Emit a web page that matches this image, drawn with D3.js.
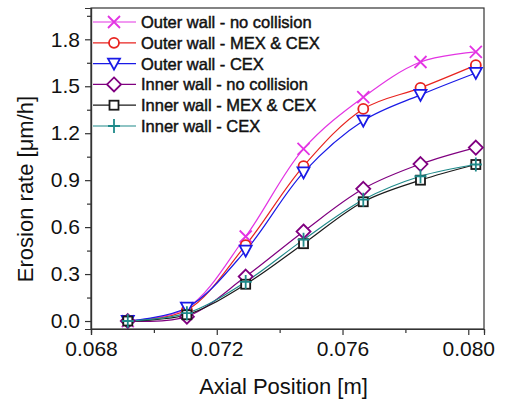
<!DOCTYPE html>
<html><head><meta charset="utf-8">
<script src="https://d3js.org/d3.v7.min.js"></script>
<style>body{margin:0;background:#fff;} svg{display:block;}</style>
</head><body>
<script>
const xPos = [0.06917, 0.07105, 0.07292, 0.07476, 0.07666, 0.07848, 0.08024];
const seriesNames = ["Outer wall - no collision","Outer wall - MEX & CEX","Outer wall - CEX","Inner wall - no collision","Inner wall - MEX & CEX","Inner wall - CEX"];
const outerNoColl = [0.0, 0.083, 0.54, 1.10, 1.43, 1.655, 1.72];
const outerMexCex = [0.0, 0.07, 0.485, 0.99, 1.355, 1.49, 1.635];
const outerCex    = [0.0, 0.085, 0.45, 0.95, 1.28, 1.445, 1.585];
const innerNoColl = [0.0, 0.028, 0.284, 0.572, 0.845, 1.003, 1.108];
const innerMexCex = [0.0, 0.04, 0.235, 0.494, 0.762, 0.90, 1.0];
const innerCex    = [0.0, 0.05, 0.25, 0.52, 0.775, 0.925, 1.0];
const xTicks = [0.068, 0.072, 0.076, 0.080];
const yTicks = [0.0, 0.3, 0.6, 0.9, 1.2, 1.5, 1.8];
const colors = ["#e334e3","#e8231f","#1a1ae6","#800080","#1a1a1a","#1f8a8a"];
const symbolsT = ["x","circle","tri","diamond","square","plus"];
const allSeries = [outerNoColl, outerMexCex, outerCex, innerNoColl, innerMexCex, innerCex];

const W=505,H=402, L=91, R=484, T=8, B=329;
const svg=d3.select("body").append("svg").attr("width",W).attr("height",H);
const x=d3.scaleLinear().domain([0.068,0.0805]).range([L,R]);
const y=d3.scaleLinear().domain([-0.051,2.0]).range([B,T]);
const font="Liberation Sans, Arial, sans-serif";

svg.append("rect").attr("x",L).attr("y",T).attr("width",R-L).attr("height",B-T)
  .attr("fill","none").attr("stroke","#333").attr("stroke-width",1.2);

const xAxis=svg.append("g").attr("transform",`translate(0,${B})`)
  .call(d3.axisBottom(x).tickValues(xTicks).tickFormat(d3.format(".3f")).tickSize(6).tickPadding(6));
const xMinor=svg.append("g").attr("transform",`translate(0,${B})`)
  .call(d3.axisBottom(x).tickValues([0.070,0.074,0.078]).tickFormat("").tickSize(4));
const yAxis=svg.append("g").attr("transform",`translate(${L},0)`)
  .call(d3.axisLeft(y).tickValues(yTicks).tickFormat(d3.format(".1f")).tickSize(6).tickPadding(5));
const yMinor=svg.append("g").attr("transform",`translate(${L},0)`)
  .call(d3.axisLeft(y).tickValues([0.15,0.45,0.75,1.05,1.35,1.65,1.95]).tickFormat("").tickSize(4));
[xAxis,xMinor,yAxis,yMinor].forEach(g=>{
  g.select(".domain").attr("stroke","#333").attr("stroke-width",1.2);
  g.selectAll("line").attr("stroke","#333").attr("stroke-width",1.2);
  g.selectAll("text").attr("font-family",font).attr("font-size",21).attr("fill","#111");
});

svg.append("text").attr("x",(L+R)/2-4).attr("y",394).attr("text-anchor","middle")
  .attr("font-family",font).attr("font-size",22).attr("fill","#111").text("Axial Position [m]");
svg.append("text").attr("transform",`translate(33,189) rotate(-90)`).attr("text-anchor","middle")
  .attr("font-family",font).attr("font-size",22).attr("fill","#111").text("Erosion rate [μm/h]");

function drawMarker(g,type,cx,cy,color){
  const s=g.append("g").attr("transform",`translate(${cx},${cy})`)
    .attr("fill","none").attr("stroke",color).attr("stroke-width",1.8);
  if(type==="x"){s.append("path").attr("d","M-6,-6L6,6M-6,6L6,-6");}
  else if(type==="circle"){s.append("circle").attr("r",5).attr("fill","#fff");}
  else if(type==="tri"){s.append("path").attr("d","M-6,-5L6,-5L0,6Z").attr("fill","#fff");}
  else if(type==="diamond"){s.append("path").attr("d","M0,-7L7,0L0,7L-7,0Z").attr("fill","#fff");}
  else if(type==="square"){s.append("rect").attr("x",-4.5).attr("y",-4.5).attr("width",9).attr("height",9).attr("fill","#fff");}
  else if(type==="plus"){s.append("path").attr("d","M-6,0L6,0M0,-7L0,7");}
}

const line=d3.line().x((d,i)=>x(xPos[i])).y(d=>y(d)).curve(d3.curveCatmullRom.alpha(0.5));
const plot=svg.append("g");
allSeries.forEach((vals,k)=>{
  plot.append("path").datum(vals).attr("d",line).attr("fill","none")
    .attr("stroke",colors[k]).attr("stroke-width",1.2);
});
allSeries.forEach((vals,k)=>{
  vals.forEach((v,i)=>drawMarker(plot,symbolsT[k],x(xPos[i]),y(v),colors[k]));
});

const leg=svg.append("g");
seriesNames.forEach((n,k)=>{
  const ly=22+k*20.8;
  leg.append("line").attr("x1",93).attr("x2",136).attr("y1",ly).attr("y2",ly)
    .attr("stroke",colors[k]).attr("stroke-width",1.2);
  drawMarker(leg,symbolsT[k],114,ly,colors[k]);
  leg.append("text").attr("x",141).attr("y",ly+6).attr("font-family",font)
    .attr("font-size",16.5).attr("stroke","#111").attr("stroke-width",0.45)
    .attr("fill","#111").text(n);
});
</script>
</body></html>
